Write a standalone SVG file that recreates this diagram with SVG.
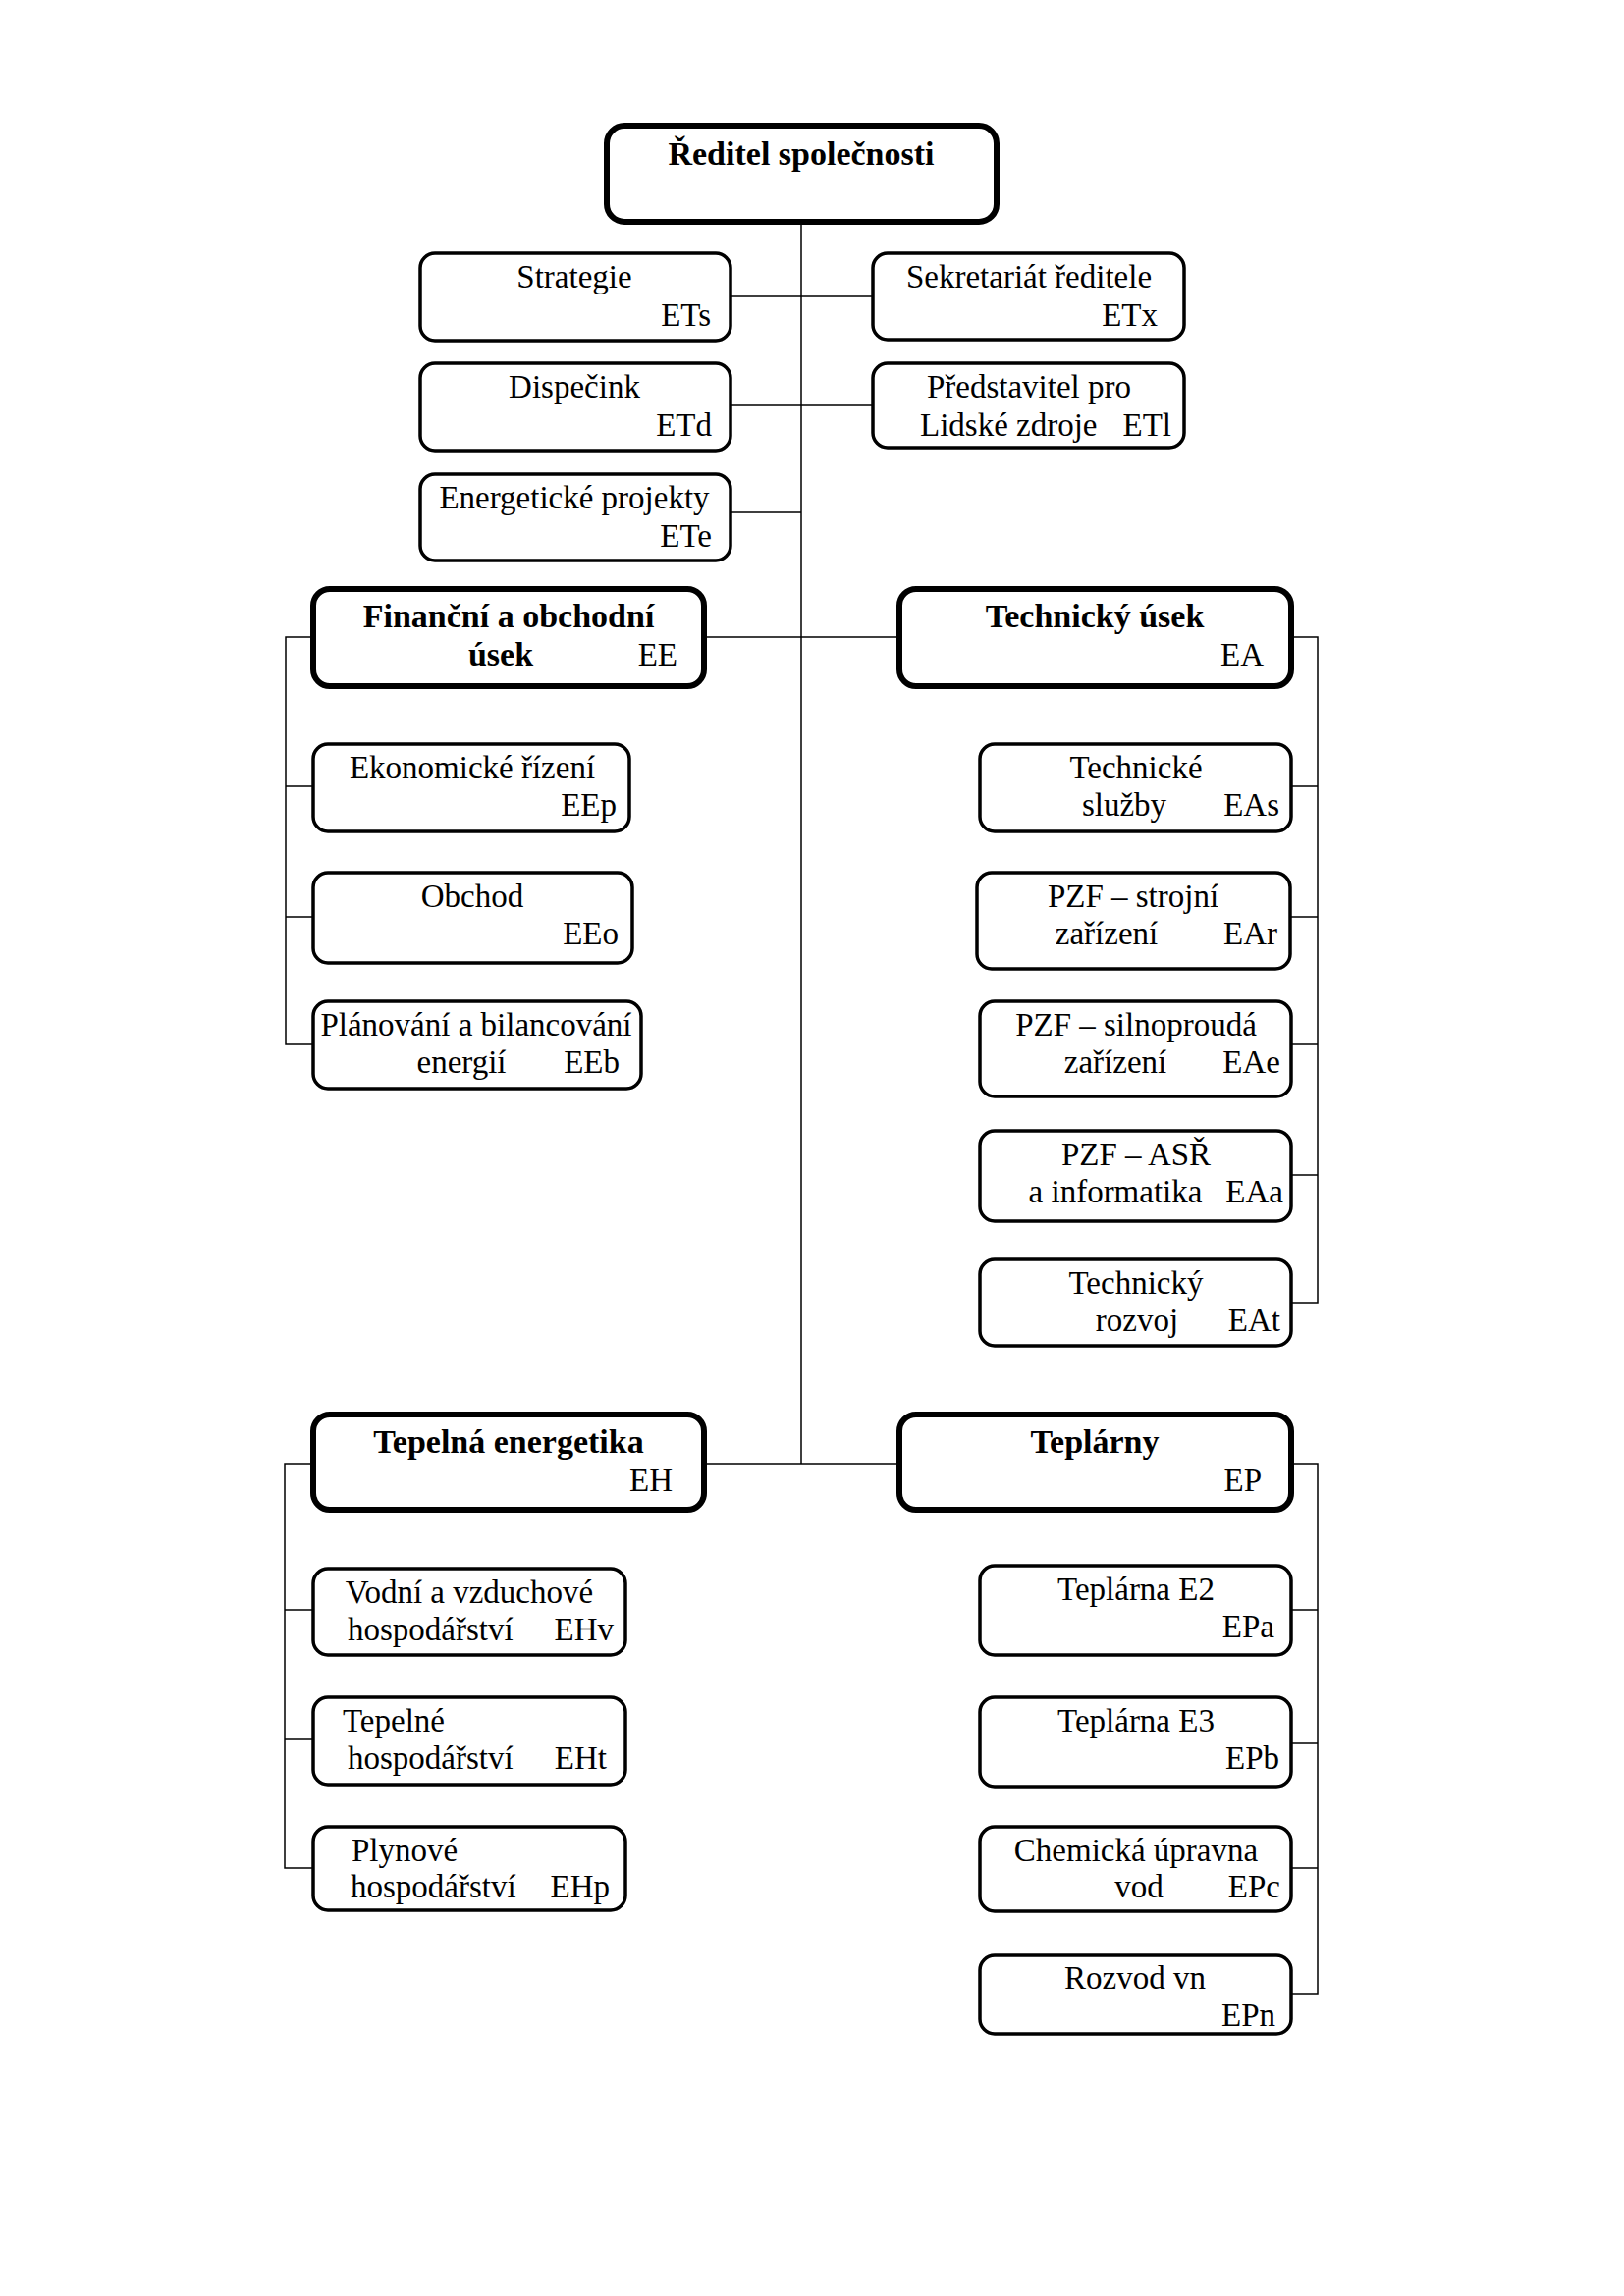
<svg xmlns="http://www.w3.org/2000/svg" width="1654" height="2339" viewBox="0 0 1654 2339">
<style>
.b{fill:#fff;stroke:#000;stroke-width:3.5}
.k{fill:#fff;stroke:#000;stroke-width:6}
.c{fill:none;stroke:#000;stroke-width:1.5}
text{font-family:"Liberation Serif","Times New Roman",serif;font-size:33px;fill:#000}
.t{font-weight:bold;font-size:34px}
.m{text-anchor:middle}
.e{text-anchor:end}
</style>
<rect width="1654" height="2339" fill="#fff"/>
<g id="connectors">
<path class="c" d="M816 226V1491M744 302H889M744 413H889M744 522H816M717 649H916M717 1491H916"/>
<path class="c" d="M319 649H291V1064H319M291 801H319M291 934H319"/>
<path class="c" d="M1315 649H1342V1327H1315M1315 801H1342M1314 934H1342M1315 1064H1342M1315 1197H1342"/>
<path class="c" d="M319 1491H290V1903H319M290 1640H319M290 1772H319"/>
<path class="c" d="M1315 1491H1342V2031H1315M1315 1640H1342M1315 1776H1342M1315 1903H1342"/>
</g>
<g id="root"><rect class="k" x="618" y="128" width="397" height="98" rx="18"/><text class="t m" x="816" y="168">Ředitel společnosti</text></g>
<g id="ETs"><rect class="b" x="428" y="258" width="316" height="89" rx="15"/><text class="m" x="585" y="293">Strategie</text><text class="e" x="724" y="332">ETs</text></g>
<g id="ETx"><rect class="b" x="889" y="258" width="317" height="88" rx="15"/><text class="m" x="1048" y="293">Sekretariát ředitele</text><text class="e" x="1179" y="332">ETx</text></g>
<g id="ETd"><rect class="b" x="428" y="370" width="316" height="89" rx="15"/><text class="m" x="585" y="405">Dispečink</text><text class="e" x="725" y="444">ETd</text></g>
<g id="ETl"><rect class="b" x="889" y="370" width="317" height="86" rx="15"/><text class="m" x="1048" y="405">Představitel pro</text><text x="937" y="444">Lidské zdroje</text><text class="e" x="1193" y="444">ETl</text></g>
<g id="ETe"><rect class="b" x="428" y="483" width="316" height="88" rx="15"/><text class="m" x="585" y="518">Energetické projekty</text><text class="e" x="725" y="557">ETe</text></g>
<g id="EE"><rect class="k" x="319" y="600" width="398" height="99" rx="17"/><text class="t m" x="518" y="639">Finanční a obchodní</text><text class="t m" x="510" y="678">úsek</text><text class="e" x="690" y="678">EE</text></g>
<g id="EA"><rect class="k" x="916" y="600" width="399" height="99" rx="17"/><text class="t m" x="1115" y="639">Technický úsek</text><text class="e" x="1287" y="678">EA</text></g>
<g id="EEp"><rect class="b" x="319" y="758" width="322" height="89" rx="15"/><text class="m" x="481" y="793">Ekonomické řízení</text><text class="e" x="628" y="831">EEp</text></g>
<g id="EEo"><rect class="b" x="319" y="889" width="325" height="92" rx="15"/><text class="m" x="481" y="924">Obchod</text><text class="e" x="630" y="962">EEo</text></g>
<g id="EEb"><rect class="b" x="319" y="1020" width="334" height="89" rx="15"/><text class="m" x="485" y="1055">Plánování a bilancování</text><text class="m" x="470" y="1093">energií</text><text class="e" x="631" y="1093">EEb</text></g>
<g id="EAs"><rect class="b" x="998" y="758" width="317" height="89" rx="15"/><text class="m" x="1157" y="793">Technické</text><text class="m" x="1145" y="831">služby</text><text class="e" x="1303" y="831">EAs</text></g>
<g id="EAr"><rect class="b" x="995" y="889" width="319" height="98" rx="15"/><text class="m" x="1154" y="924">PZF – strojní</text><text class="m" x="1127" y="962">zařízení</text><text class="e" x="1301" y="962">EAr</text></g>
<g id="EAe"><rect class="b" x="998" y="1020" width="317" height="97" rx="15"/><text class="m" x="1157" y="1055">PZF – silnoproudá</text><text class="m" x="1136" y="1093">zařízení</text><text class="e" x="1304" y="1093">EAe</text></g>
<g id="EAa"><rect class="b" x="998" y="1152" width="317" height="92" rx="15"/><text class="m" x="1157" y="1187">PZF – ASŘ</text><text class="m" x="1136" y="1225">a informatika</text><text class="e" x="1307" y="1225">EAa</text></g>
<g id="EAt"><rect class="b" x="998" y="1283" width="317" height="88" rx="15"/><text class="m" x="1157" y="1318">Technický</text><text class="m" x="1158" y="1356">rozvoj</text><text class="e" x="1304" y="1356">EAt</text></g>
<g id="EH"><rect class="k" x="319" y="1441" width="398" height="97" rx="17"/><text class="t m" x="518" y="1480">Tepelná energetika</text><text class="e" x="685" y="1519">EH</text></g>
<g id="EP"><rect class="k" x="916" y="1441" width="399" height="97" rx="17"/><text class="t m" x="1115" y="1480">Teplárny</text><text class="e" x="1285" y="1519">EP</text></g>
<g id="EHv"><rect class="b" x="319" y="1598" width="318" height="88" rx="15"/><text class="m" x="478" y="1633">Vodní a vzduchové</text><text x="354" y="1671">hospodářství</text><text class="e" x="625" y="1671">EHv</text></g>
<g id="EHt"><rect class="b" x="319" y="1729" width="318" height="89" rx="15"/><text x="349" y="1764">Tepelné</text><text x="354" y="1802">hospodářství</text><text class="e" x="618" y="1802">EHt</text></g>
<g id="EHp"><rect class="b" x="319" y="1861" width="318" height="85" rx="15"/><text x="358" y="1896">Plynové</text><text x="357" y="1933">hospodářství</text><text class="e" x="621" y="1933">EHp</text></g>
<g id="EPa"><rect class="b" x="998" y="1595" width="317" height="91" rx="15"/><text class="m" x="1157" y="1630">Teplárna E2</text><text class="e" x="1298" y="1668">EPa</text></g>
<g id="EPb"><rect class="b" x="998" y="1729" width="317" height="91" rx="15"/><text class="m" x="1157" y="1764">Teplárna E3</text><text class="e" x="1303" y="1802">EPb</text></g>
<g id="EPc"><rect class="b" x="998" y="1861" width="317" height="86" rx="15"/><text class="m" x="1157" y="1896">Chemická úpravna</text><text class="m" x="1160" y="1933">vod</text><text class="e" x="1304" y="1933">EPc</text></g>
<g id="EPn"><rect class="b" x="998" y="1992" width="317" height="80" rx="15"/><text class="m" x="1156" y="2026">Rozvod vn</text><text class="e" x="1299" y="2064">EPn</text></g>
</svg>
